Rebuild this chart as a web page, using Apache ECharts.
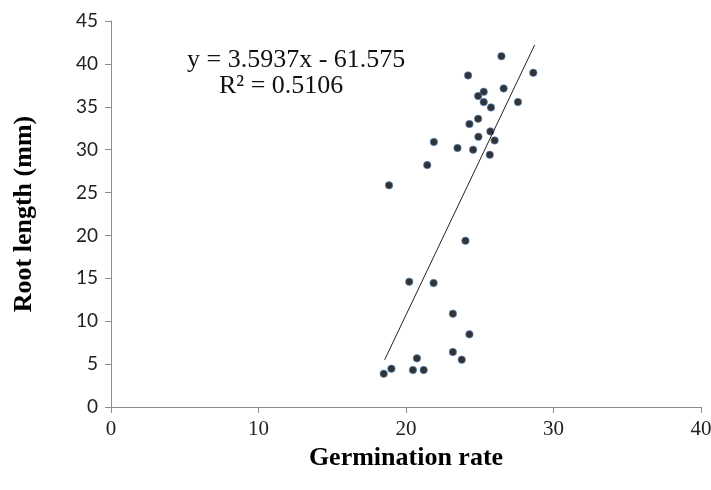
<!DOCTYPE html>
<html>
<head>
<meta charset="utf-8">
<script src="https://cdn.jsdelivr.net/npm/echarts@6/dist/echarts.min.js"></script>
<style>html,body{margin:0;padding:0;background:#fff;}#c{width:711px;height:490px;}</style>
</head>
<body>
<div id="c"></div>
<script>
var germination = [26.47, 28.63, 24.21, 26.62, 25.27, 24.89, 25.27, 27.59, 25.76, 24.89, 24.30, 25.72, 24.91, 26.01, 21.89, 23.49, 24.55, 25.68, 21.44, 18.85, 24.03, 20.22, 21.87, 23.18, 24.30, 23.18, 23.78, 20.74, 19.01, 20.47, 21.20, 18.49];
var rootLength = [40.9, 38.96, 38.66, 37.14, 36.75, 36.25, 35.55, 35.55, 34.93, 33.6, 32.98, 32.13, 31.5, 31.08, 30.9, 30.19, 29.99, 29.41, 28.2, 25.84, 19.38, 14.6, 14.45, 10.88, 8.47, 6.41, 5.52, 5.67, 4.47, 4.31, 4.31, 3.88];
// trendline endpoints as drawn in the picture
var trendX = [18.55, 28.72];
var trendY = [5.5, 42.2];
var eqText = 'y = 3.5937x - 61.575';
var r2Text = 'R\u00B2 = 0.5106';
var xTicks = [0, 10, 20, 30, 40];
var yTicks = [0, 5, 10, 15, 20, 25, 30, 35, 40, 45];

var pts = germination.map(function (g, i) { return [g, rootLength[i]]; });
var trend = trendX.map(function (x, i) { return [x, trendY[i]]; });

var chart = echarts.init(document.getElementById('c'));
var axisCol = '#8c8c8c';
chart.setOption({
  animation: false,
  grid: { left: 111, right: 10, top: 21, bottom: 83, containLabel: false, outerBoundsMode: 'none' },
  xAxis: {
    type: 'value', min: 0, max: 40, interval: 10,
    name: 'Germination rate', nameLocation: 'middle', nameGap: 36,
    nameTextStyle: { fontFamily: 'Liberation Serif', fontWeight: 'bold', fontSize: 26, color: '#000' },
    axisLine: { lineStyle: { color: axisCol, width: 1 } },
    axisTick: { show: true, length: 6, lineStyle: { color: axisCol } },
    axisLabel: { fontFamily: 'Liberation Serif', fontSize: 21, color: '#222', margin: 12 },
    splitLine: { show: false }
  },
  yAxis: {
    type: 'value', min: 0, max: 45, interval: 5,
    name: 'Root length (mm)', nameLocation: 'middle', nameGap: 74, nameRotate: 90,
    nameTextStyle: { fontFamily: 'Liberation Serif', fontWeight: 'bold', fontSize: 26, color: '#000' },
    axisLine: { show: true, lineStyle: { color: axisCol, width: 1 } },
    axisTick: { show: true, length: 6, lineStyle: { color: axisCol } },
    axisLabel: { fontFamily: 'Lato', fontSize: 19, color: '#222', margin: 13 },
    splitLine: { show: false }
  },
  graphic: [
    { type: 'text', left: 187, top: 47, style: { text: eqText, font: '26px "Liberation Serif"', fill: '#111' } },
    { type: 'text', left: 219, top: 73, style: { text: r2Text, font: '26px "Liberation Serif"', fill: '#111' } }
  ],
  series: [
    { type: 'line', data: trend, symbol: 'none', lineStyle: { color: '#222', width: 1 }, z: 2 },
    { type: 'scatter', data: pts, symbolSize: 7.5, itemStyle: { color: '#000', borderColor: '#5b8fd0', borderWidth: 0.8 }, z: 3 }
  ]
});
</script>
</body>
</html>
